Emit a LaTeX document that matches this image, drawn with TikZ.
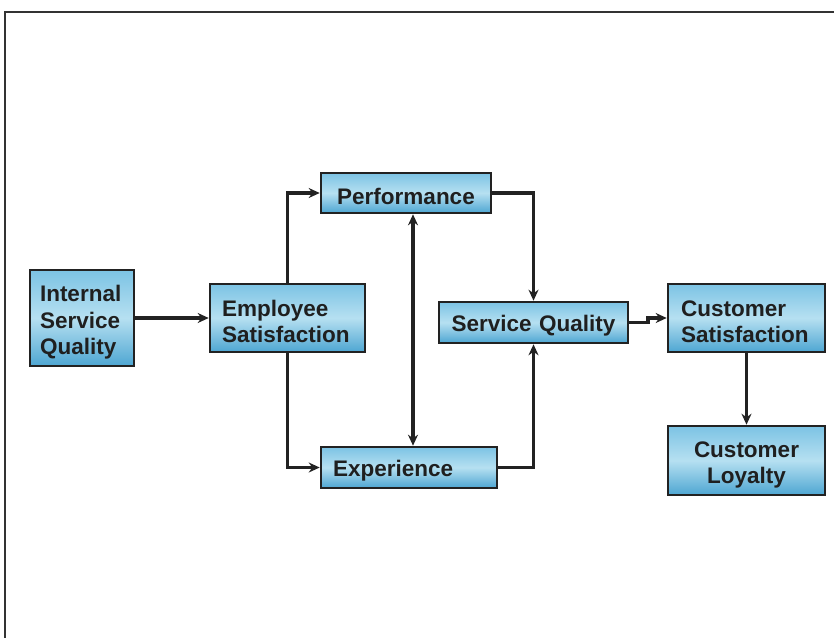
\documentclass[tikz,border=0pt]{standalone}
\usepackage{fontspec}
\setmainfont{Liberation Sans}
\usetikzlibrary{arrows.meta}
\definecolor{boxtop}{HTML}{7CC3E4}
\definecolor{boxmid}{HTML}{B6E0F1}
\definecolor{boxbot}{HTML}{4EA6D2}
\definecolor{edgec}{HTML}{222222}
\definecolor{framec}{HTML}{333333}
\tikzset{
  box/.style={draw=edgec, line width=2.6pt, top color=boxtop, bottom color=boxbot, middle color=boxmid,
    inner sep=0pt},
  txt/.style={inner sep=0pt, font=\fontsize{22.5}{26.5}\selectfont\bfseries, text=black!88},
  arr/.style={draw=edgec, line width=3.2pt, -{Stealth[length=11pt,width=10pt]}},
  darr/.style={draw=edgec, line width=3.2pt, {Stealth[length=11pt,width=10pt]}-{Stealth[length=11pt,width=10pt]}},
  frameline/.style={draw=framec, line width=2.8pt}
}
\begin{document}
\begin{tikzpicture}[x=1pt,y=-1pt]
\useasboundingbox (0,0) rectangle (834,637);
\coordinate (fbl) at (5,640);
\coordinate (ftl) at (5,12);
\coordinate (ftr) at (840,12);
\draw[frameline] (fbl) -- (ftl) -- (ftr);

% boxes
\node[box, minimum width=104pt, minimum height=96pt] (isq) at (82,318) {};
\node[box, minimum width=155pt, minimum height=68pt] (es) at (287.5,318) {};
\node[box, minimum width=170pt, minimum height=40pt] (perf) at (406,193) {};
\node[box, minimum width=176pt, minimum height=41pt] (exp) at (409,467.5) {};
\node[box, minimum width=189pt, minimum height=41pt] (sq) at (533.5,322.5) {};
\node[box, minimum width=157pt, minimum height=68pt] (cs) at (746.5,318) {};
\node[box, minimum width=157pt, minimum height=69pt] (cl) at (746.5,460.5) {};

% texts
\node[txt, text width=84pt, align=left] (isqt) at ([yshift=-4.5pt]isq.center) {Internal\\Service\\Quality};
\node[txt, text width=131pt, align=left] (est) at ([yshift=-3.5pt]es.center) {Employee\\Satisfaction};
\node[txt, text width=150pt, align=center] (perft) at ([yshift=-3pt]perf.center) {Performance};
\node[txt, text width=152pt, align=left] (expt) at ([yshift=-3pt]exp.center) {Experience};
\node[txt, text width=169pt, align=center] (sqt) at ([yshift=-3pt]sq.center) {Service Quality};
\node[txt, text width=131pt, align=left] (cst) at ([yshift=-3.5pt]cs.center) {Customer\\Satisfaction};
\node[txt, text width=131pt, align=center] (clt) at ([yshift=-4.5pt]cl.center) {Customer\\Loyalty};

% connectors
\coordinate (vx) at (413,0);
\coordinate (jog) at (648,0);
\draw[arr] (isq) -- (es);
\draw[arr] (es.north) |- (perf.west);
\draw[arr] (es.south) |- (exp.west);
\draw[darr] (perf.south -| vx) -- (exp.north -| vx);
\draw[arr] (perf.east) -| (sq.north);
\draw[arr] (exp.east) -| (sq.south);
\draw[arr] (sq.east) -- (sq.east -| jog) |- (cs.west);
\draw[arr] (cs.south) -- (cl.north);
\end{tikzpicture}
\end{document}
